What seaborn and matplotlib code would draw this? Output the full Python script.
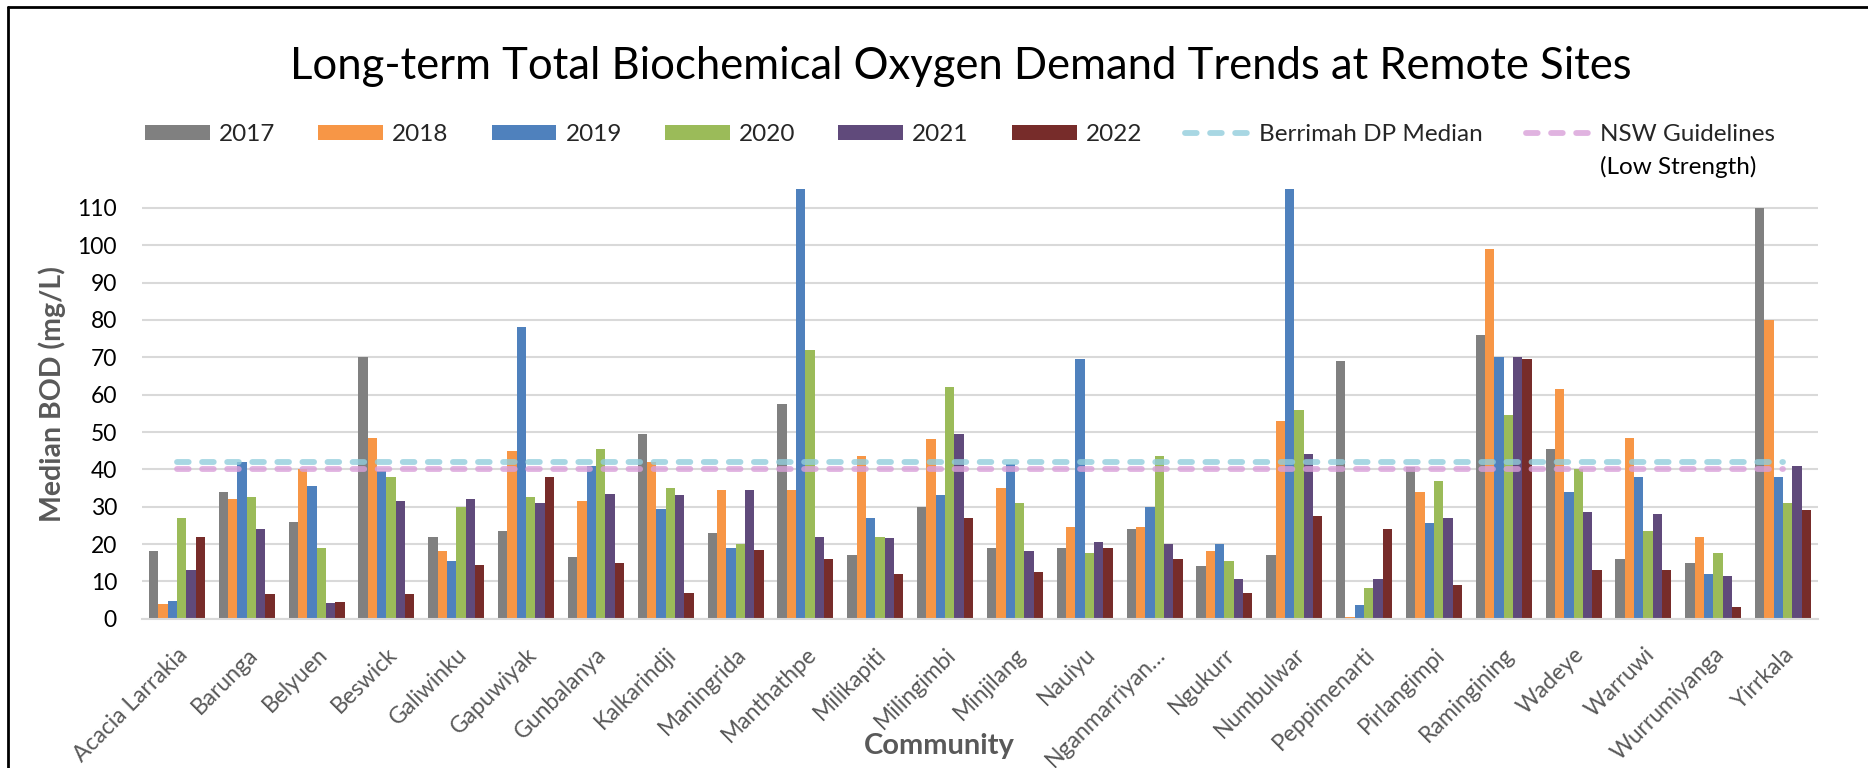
import numpy as np
import pandas as pd
import matplotlib
matplotlib.use("Agg")
import matplotlib.pyplot as plt
import seaborn as sns
from matplotlib.patches import Patch
from matplotlib.lines import Line2D

communities = ["Acacia Larrakia", "Barunga", "Belyuen", "Beswick", "Galiwinku", "Gapuwiyak",
               "Gunbalanya", "Kalkarindji", "Maningrida", "Manthathpe", "Milikapiti", "Milingimbi",
               "Minjilang", "Nauiyu", "Nganmarriyan…", "Ngukurr", "Numbulwar", "Peppimenarti",
               "Pirlangimpi", "Ramingining", "Wadeye", "Warruwi", "Wurrumiyanga", "Yirrkala"]
years = ["2017", "2018", "2019", "2020", "2021", "2022"]

bod_2017 = [18, 34, 26, 70, 22, 23.5, 16.5, 49.5, 23, 57.5, 17, 30, 19, 19, 24, 14, 17, 69, 40.5, 76, 45.5, 16, 15, 110]
bod_2018 = [4, 32, 40, 48.5, 18, 45, 31.5, 42, 34.5, 34.5, 43.5, 48, 35, 24.5, 24.5, 18, 53, 0.5, 34, 99, 61.5, 48.5, 22, 80]
bod_2019 = [4.8, 42, 35.5, 39.5, 15.5, 78, 41, 29.5, 19, 115, 27, 33, 41.5, 69.5, 30, 20, 115, 3.8, 25.5, 70, 34, 38, 12, 38]
bod_2020 = [27, 32.5, 19, 38, 30, 32.5, 45.5, 35, 20, 72, 22, 62, 31, 17.5, 43.5, 15.5, 56, 8.2, 37, 54.5, 40, 23.5, 17.5, 31]
bod_2021 = [13, 24, 4.3, 31.5, 32, 31, 33.5, 33, 34.5, 22, 21.5, 49.5, 18, 20.5, 20, 10.5, 44, 10.7, 27, 70, 28.5, 28, 11.5, 41]
bod_2022 = [22, 6.5, 4.4, 6.5, 14.5, 38, 15, 7, 18.5, 16, 12, 27, 12.5, 19, 16, 7, 27.5, 24, 9, 69.5, 13, 13, 3, 29]

berrimah_median = 42
nsw_low_strength = 40

year_colors = ["#808080", "#F79646", "#4F81BD", "#9BBB59", "#604A7B", "#772C2A"]
berrimah_color = "#92CDDC"
nsw_color = "#D9A0D9"

series = [bod_2017, bod_2018, bod_2019, bod_2020, bod_2021, bod_2022]
rows = []
for yr, vals in zip(years, series):
    for c, v in zip(communities, vals):
        rows.append({"Community": c, "Year": yr, "BOD": v})
df = pd.DataFrame(rows)

sns.set_theme(style="white")
plt.rcParams['font.family'] = ['Lato', 'DejaVu Sans']

W, H = 1868, 768
fig = plt.figure(figsize=(W / 100, H / 100), dpi=100)
ax = fig.add_axes([142 / W, 1 - 618.7 / H, (1818 - 142) / W, (618.7 - 189.3) / H])

sns.barplot(data=df, x="Community", y="BOD", hue="Year", hue_order=years,
            order=communities, palette=year_colors, saturation=1, width=0.8,
            linewidth=0, ax=ax, legend=False, errorbar=None)

idx = np.arange(len(communities))
dash = (0, (2.0, 2.3))
ax.plot(idx, [berrimah_median] * len(idx), color=berrimah_color, alpha=0.8, lw=4.2,
        linestyle=dash, dash_capstyle="round", zorder=5)
ax.plot(idx, [nsw_low_strength] * len(idx), color=nsw_color, alpha=0.8, lw=4.2,
        linestyle=dash, dash_capstyle="round", zorder=5)

ax.set_xlim(-0.5, len(communities) - 0.5)
ax.set_ylim(0, 115)
ax.set_yticks(np.arange(0, 111, 10))
ax.yaxis.grid(True, color="#D9D9D9", lw=1.5)
ax.set_axisbelow(True)
for s in ["top", "right", "left"]:
    ax.spines[s].set_visible(False)
ax.spines["bottom"].set_color("#D9D9D9")
ax.spines["bottom"].set_linewidth(1.5)
ax.set_xlabel("")
ax.set_ylabel("")
ax.tick_params(axis="y", length=0, pad=18, labelsize=16.5, labelcolor="#000000")
ax.tick_params(axis="x", length=0, pad=18, labelsize=16.5, labelcolor="#595959")
for lab in ax.get_xticklabels():
    lab.set_rotation(45)
    lab.set_ha("right")
    lab.set_va("top")
    lab.set_rotation_mode("anchor")

fig.text(0.5146, 1 - 66.7 / H, "Long-term Total Biochemical Oxygen Demand Trends at Remote Sites",
         ha="center", va="center", fontsize=31.4, color="black")
fig.text(52 / W, 1 - 394.5 / H, "Median BOD (mg/L)", rotation=90, ha="center", va="center",
         fontsize=20.5, fontweight="bold", color="#595959")
fig.text(939 / W, 1 - 746 / H, "Community", ha="center", va="center",
         fontsize=21, fontweight="bold", color="#595959")

handles = [Patch(facecolor=c, edgecolor="none") for c in year_colors]
handles += [Line2D([0], [0], color=berrimah_color, alpha=0.8, lw=4.2, linestyle=(0, (2.0, 2.3)), dash_capstyle="round"),
            Line2D([0], [0], color=nsw_color, alpha=0.8, lw=4.2, linestyle=(0, (2.0, 2.3)), dash_capstyle="round")]
labels = years + ["Berrimah DP Median", "NSW Guidelines"]
leg = fig.legend(handles, labels, loc="center left", bbox_to_anchor=(145 / W, 1 - 134.4 / H),
                 ncol=8, frameon=False, fontsize=17.5, handlelength=2.67, handleheight=0.6,
                 handletextpad=0.37, columnspacing=1.77, borderpad=0, borderaxespad=0)

fig.canvas.draw()
bb = leg.get_texts()[-1].get_window_extent()
fig.text(bb.x0 / W, ((bb.y0 + bb.y1) / 2 - 33) / H, "(Low Strength)", ha="left", va="center",
         fontsize=17.5, color="black")

# outer chart border (top and left)
fig.add_artist(Line2D([8 / W, 8 / W], [0, 1 - 6.5 / H], transform=fig.transFigure, color="black", lw=2))
fig.add_artist(Line2D([8 / W, 1], [1 - 6.5 / H, 1 - 6.5 / H], transform=fig.transFigure, color="black", lw=2))

fig.savefig("out.png", dpi=100)
